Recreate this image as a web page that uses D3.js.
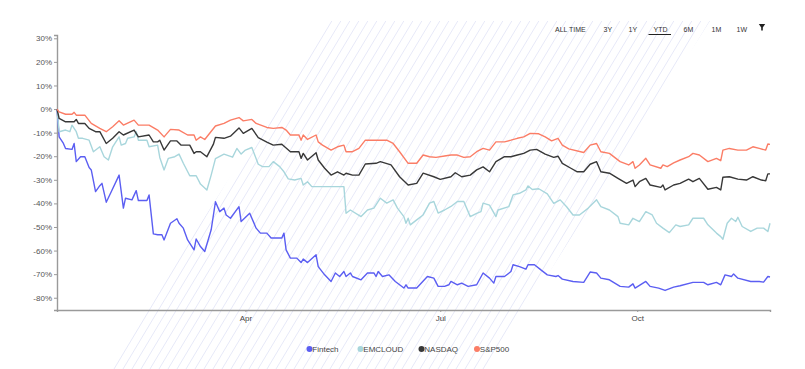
<!DOCTYPE html>
<html><head><meta charset="utf-8">
<script src="https://cdn.jsdelivr.net/npm/d3@7"></script>
<style>
html,body{margin:0;padding:0;background:#fff;}
svg{display:block;font-family:"Liberation Sans",Arial,sans-serif;}
</style></head>
<body>
<svg id="chart" width="805" height="369"></svg>
<script>
// ---- DATA (day of year 2022, Jan 1 = 0 ; value in %) ----
const seriesNames = ["Fintech","EMCLOUD","NASDAQ","S&P500"];
const seriesColors = ["#5b5ef2","#a8d6dc","#383838","#fb7d66"];
const yTicks = [30,20,10,0,-10,-20,-30,-40,-50,-60,-70,-80];
const timeButtons = ["ALL TIME","3Y","1Y","YTD","6M","1M","1W"];

const sp500 = [[2,0],[3,-1.2],[6,-2.2],[9,-2.2],[10,-1.4],[11,-2.6],[15,-2.6],[18,-6.1],[22,-8.2],[25,-9.6],[28,-7.5],[31,-5.0],[33,-6.8],[38,-4.7],[40,-6.8],[45,-6.8],[49,-8.9],[52,-11.8],[55,-8.6],[59,-8.9],[63,-11.0],[66,-11.0],[67,-13.2],[69,-11.8],[71,-12.9],[76,-7.2],[80,-6.1],[83,-4.7],[87,-3.6],[89,-5.0],[93,-4.4],[95,-6.1],[100,-7.8],[103,-8.2],[107,-7.8],[109,-8.9],[111,-11.0],[115,-11.0],[116,-13.2],[117,-11.0],[119,-12.9],[123,-11.0],[124,-13.9],[126,-15.3],[130,-17.4],[133,-16.0],[136,-15.3],[137,-18.1],[140,-18.1],[143,-16.7],[146,-13.2],[151,-13.2],[156,-13.2],[159,-14.6],[162,-18.1],[166,-23.0],[170,-23.0],[173,-19.5],[176,-20.2],[179,-20.5],[183,-19.9],[186,-19.5],[189,-19.5],[192,-20.5],[195,-20.2],[198,-18.1],[201,-16.7],[204,-17.4],[207,-13.9],[211,-13.9],[214,-13.2],[217,-12.4],[220,-11.8],[223,-10.3],[227,-10.5],[230,-11.8],[233,-13.5],[236,-12.4],[238,-15.3],[241,-16.9],[248,-18.4],[251,-15.3],[254,-14.6],[256,-18.1],[260,-18.8],[265,-22.3],[269,-23.7],[271,-22.3],[272,-25.1],[274,-23.7],[277,-20.9],[279,-23.7],[284,-25.1],[285,-23.7],[287,-24.4],[290,-22.8],[293,-21.6],[297,-20.2],[299,-18.8],[302,-19.5],[306,-22.3],[310,-20.9],[312,-21.9],[313,-17.4],[316,-16.7],[320,-17.4],[324,-17.4],[327,-16.0],[330,-16.7],[333,-17.4],[334,-14.8],[335,-15.0]];

const nasdaq = [[2,0],[3,-4.0],[6,-5.4],[10,-5.4],[11,-4.4],[12,-6.1],[15,-6.1],[17,-8.2],[20,-9.6],[22,-9.6],[25,-14.6],[28,-12.4],[31,-9.6],[33,-11.0],[38,-8.9],[40,-11.8],[45,-11.0],[47,-13.9],[49,-13.9],[50,-13.2],[52,-17.4],[55,-13.5],[58,-13.5],[60,-15.3],[64,-15.3],[66,-18.8],[67,-18.1],[69,-18.1],[72,-20.2],[75,-15.0],[76,-12.0],[80,-12.4],[83,-11.5],[87,-8.0],[89,-10.3],[93,-8.2],[96,-12.1],[100,-14.0],[103,-15.3],[107,-14.9],[111,-18.1],[115,-18.1],[116,-20.9],[117,-18.8],[119,-21.6],[123,-18.5],[124,-21.6],[127,-25.1],[130,-28.0],[133,-26.6],[136,-28.0],[137,-27.2],[140,-28.0],[143,-28.0],[146,-23.3],[151,-23.0],[153,-22.3],[158,-23.7],[162,-28.7],[166,-32.2],[170,-31.5],[173,-27.2],[178,-28.7],[181,-29.8],[186,-28.7],[188,-27.0],[191,-28.7],[195,-28.0],[198,-25.8],[201,-24.5],[204,-26.6],[207,-22.3],[211,-20.2],[214,-20.2],[217,-19.5],[220,-18.8],[223,-17.4],[226,-17.1],[230,-19.1],[234,-20.5],[236,-20.0],[238,-23.0],[242,-25.1],[245,-26.6],[248,-26.6],[251,-23.4],[254,-22.3],[256,-26.6],[260,-27.2],[264,-29.4],[268,-31.5],[271,-30.1],[272,-32.9],[274,-30.8],[277,-29.4],[279,-32.2],[284,-33.2],[285,-32.2],[286,-34.3],[290,-32.2],[293,-31.5],[297,-29.7],[299,-30.8],[302,-29.4],[306,-34.0],[310,-33.2],[312,-34.3],[313,-28.9],[316,-28.7],[320,-29.7],[324,-30.1],[327,-28.7],[331,-30.1],[333,-30.4],[334,-27.5],[335,-27.5]];

const emcloud = [[2,0],[3,-9.6],[6,-8.9],[8,-9.6],[9,-6.8],[11,-9.6],[12,-12.4],[14,-12.4],[17,-13.2],[19,-18.1],[22,-16.0],[24,-20.2],[26,-21.6],[28,-16.0],[31,-11.8],[32,-15.3],[34,-14.6],[35,-12.4],[38,-11.8],[39,-9.6],[40,-13.2],[44,-13.2],[45,-16.0],[49,-15.3],[50,-20.5],[52,-25.8],[54,-20.9],[57,-20.2],[59,-19.1],[61,-23.0],[64,-28.3],[67,-28.3],[69,-31.8],[72,-34.3],[74,-28.0],[76,-21.0],[80,-19.1],[81,-19.4],[84,-20.4],[86,-16.7],[88,-19.1],[90,-17.4],[93,-16.3],[96,-23.4],[98,-24.4],[101,-24.4],[103,-22.3],[106,-24.4],[108,-26.6],[110,-29.6],[113,-30.1],[116,-29.4],[117,-32.2],[119,-30.8],[121,-32.9],[136,-32.9],[137,-44.2],[139,-42.8],[144,-45.6],[147,-42.8],[150,-42.0],[153,-37.8],[156,-39.9],[159,-38.5],[161,-42.0],[164,-45.6],[165,-48.4],[166,-46.3],[167,-49.1],[170,-47.0],[173,-44.9],[176,-39.9],[178,-39.2],[180,-44.1],[183,-42.8],[186,-41.3],[189,-39.2],[192,-39.2],[195,-45.6],[198,-44.2],[200,-43.5],[201,-39.9],[204,-40.7],[207,-45.6],[208,-42.8],[213,-41.4],[215,-36.4],[218,-35.7],[221,-34.3],[222,-32.6],[224,-34.1],[227,-33.8],[231,-36.0],[234,-40.0],[237,-38.5],[240,-41.4],[243,-44.9],[246,-44.9],[250,-42.1],[254,-38.5],[256,-41.4],[260,-42.8],[264,-45.6],[265,-48.4],[269,-49.1],[271,-46.3],[274,-47.7],[277,-43.5],[280,-44.9],[282,-48.4],[285,-50.5],[288,-52.4],[291,-49.1],[293,-49.8],[297,-49.1],[299,-46.3],[304,-46.3],[306,-49.1],[310,-52.6],[312,-54.1],[313,-55.2],[315,-48.4],[317,-46.3],[319,-47.7],[320,-45.9],[322,-49.8],[326,-51.9],[329,-50.5],[332,-50.5],[334,-51.9],[335,-48.4]];

const fintech = [[2,0],[3,-11.8],[5,-14.6],[6,-16.7],[9,-17.1],[10,-14.6],[11,-22.3],[13,-20.2],[15,-20.2],[17,-24.8],[18,-25.8],[20,-35.0],[22,-32.5],[23,-31.5],[25,-39.5],[27,-35.7],[31,-28.0],[33,-42.0],[34,-37.8],[37,-38.5],[39,-34.6],[40,-38.8],[44,-38.8],[45,-36.4],[47,-52.9],[49,-53.3],[51,-53.3],[52,-55.5],[55,-48.4],[58,-46.5],[59,-48.4],[61,-50.5],[63,-55.5],[66,-59.7],[67,-55.1],[69,-58.3],[71,-60.4],[74,-51.2],[76,-39.3],[78,-43.5],[80,-42.0],[81,-44.9],[83,-46.3],[87,-41.4],[88,-47.7],[92,-44.2],[95,-50.5],[97,-52.6],[100,-52.6],[102,-54.7],[107,-54.7],[108,-52.6],[109,-59.7],[111,-63.2],[114,-63.2],[116,-65.1],[117,-63.6],[119,-65.1],[123,-61.8],[124,-66.8],[127,-70.3],[130,-73.1],[132,-69.5],[134,-71.0],[136,-68.9],[137,-71.0],[139,-69.5],[140,-71.0],[144,-72.4],[147,-69.5],[150,-69.5],[151,-71.0],[152,-68.9],[154,-71.0],[157,-70.3],[160,-73.1],[164,-75.9],[165,-74.5],[166,-75.9],[170,-75.9],[175,-71.0],[178,-71.7],[180,-75.2],[183,-75.2],[185,-74.5],[186,-73.1],[189,-74.5],[191,-73.8],[194,-75.2],[198,-74.5],[201,-69.5],[204,-71.7],[206,-73.8],[207,-71.0],[211,-71.0],[214,-68.9],[215,-66.0],[218,-66.8],[221,-67.9],[222,-66.0],[225,-66.0],[228,-68.2],[231,-70.3],[235,-71.0],[236,-70.6],[238,-72.1],[243,-73.1],[248,-73.5],[251,-69.1],[254,-69.5],[256,-71.7],[260,-72.4],[265,-75.2],[269,-75.5],[271,-74.1],[272,-75.9],[277,-73.1],[279,-75.2],[283,-75.9],[286,-76.9],[290,-75.5],[293,-74.9],[299,-73.5],[304,-73.5],[306,-74.5],[310,-73.5],[312,-74.5],[314,-70.3],[317,-71.0],[318,-69.9],[320,-71.7],[326,-73.1],[330,-73.1],[332,-73.4],[334,-71.0],[335,-71.2]];

const seriesData = [fintech, emcloud, nasdaq, sp500];

// ---- CHART ----
const W = 805, H = 369;
const svg = d3.select("#chart");
const toDate = d => new Date(2022, 0, 1 + d);

// hatched background band
const defs = svg.append("defs");
const slope = 0.64;
const bandL = 330, bandR = 710, bandY = 21;
const edgeX = (x0, yy) => x0 - (yy - bandY) * slope;
defs.append("clipPath").attr("id","band").append("polygon")
  .attr("points", [[edgeX(bandL,bandY),bandY],[edgeX(bandR,bandY),bandY],[edgeX(bandR,H),H],[edgeX(bandL,H),H]].map(p=>p.join(",")).join(" "));
const hatch = svg.append("g").attr("clip-path","url(#band)");
for (let xx = -300; xx < 900; xx += 9) {
  hatch.append("line").attr("x1", xx).attr("y1", H).attr("x2", xx + H*0.6).attr("y2", 0)
    .attr("stroke","#e7e9f8").attr("stroke-width",1);
}

const x = d3.scaleTime().domain([toDate(2), toDate(335)]).range([57, 770]);
const y = d3.scaleLinear().domain([-85.2, 31.4]).range([310, 35]);

// y axis
const yAxis = svg.append("g").attr("transform","translate(57,0)")
  .call(d3.axisLeft(y).tickValues(yTicks).tickSize(3).tickPadding(2).tickFormat(d => d + "%"));
yAxis.select(".domain").attr("stroke","#9a9a9a").attr("stroke-width",1.4);
yAxis.selectAll(".tick line").attr("stroke","#9a9a9a");
yAxis.selectAll("text").attr("fill","#555").attr("font-size",8).attr("font-family","Liberation Sans, Arial, sans-serif");

// x axis
const xAxis = svg.append("g").attr("transform","translate(0,310)")
  .call(d3.axisBottom(x).ticks(d3.timeMonth.every(3)).tickSize(2).tickPadding(3).tickFormat(d3.timeFormat("%b")));
xAxis.select(".domain").attr("stroke","#9a9a9a").attr("stroke-width",1.4);
xAxis.selectAll(".tick line").attr("stroke","#9a9a9a");
xAxis.selectAll("text").attr("fill","#444").attr("font-size",8).attr("font-family","Liberation Sans, Arial, sans-serif");

// lines
const line = d3.line().x(d => x(toDate(d[0]))).y(d => y(d[1]));
seriesData.forEach((data, i) => {
  svg.append("path").datum(data).attr("d", line)
    .attr("fill","none").attr("stroke", seriesColors[i]).attr("stroke-width",1.4)
    .attr("stroke-linejoin","round");
});

// legend
const legendX = [309.5, 360.5, 421.5, 477];
const legend = svg.append("g");
seriesNames.forEach((name, i) => {
  const g = legend.append("g").attr("transform", `translate(${legendX[i]},349)`);
  g.append("circle").attr("r",3).attr("fill", seriesColors[i]);
  g.append("text").attr("x",2.8).attr("y",2.9).attr("font-size",8).attr("fill","#444").text(name);
});

// time range buttons
const btnX = [555, 603.5, 628.5, 653.5, 683.5, 711.5, 736.5];
timeButtons.forEach((t, i) => {
  svg.append("text").attr("x", btnX[i]).attr("y", 31.5).attr("font-size",7).attr("fill","#333").text(t);
});
svg.append("line").attr("x1",648.5).attr("x2",671).attr("y1",34.5).attr("y2",34.5).attr("stroke","#222").attr("stroke-width",1);
svg.append("path").attr("d","M758.8,24 L765.2,24 L762.8,27.5 L762.8,30.5 L761.2,30.5 L761.2,27.5 Z").attr("fill","#222");
</script>
</body></html>
